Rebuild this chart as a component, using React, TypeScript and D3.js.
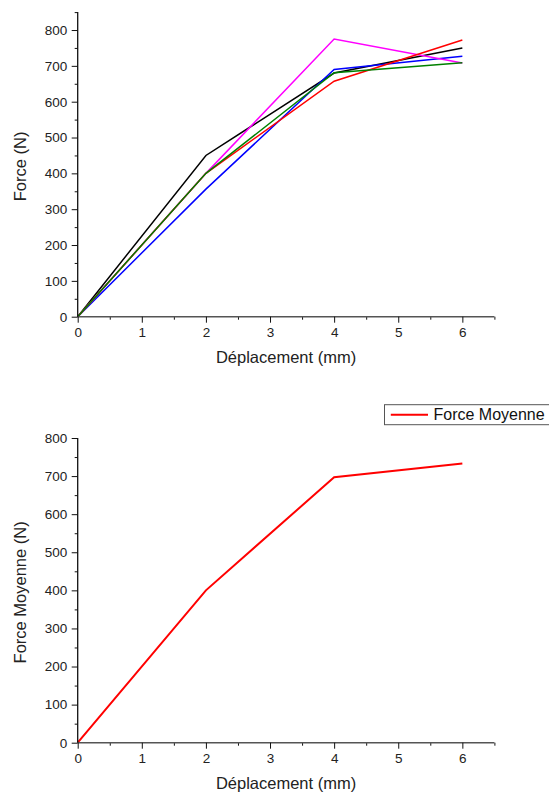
import React, { useEffect, useRef } from "react";
import * as d3 from "d3";

const displacement = [0, 2, 4, 6];
const seriesBlack = [0, 450, 680, 750];
const seriesBlue = [0, 356, 690, 727];
const seriesMagenta = [0, 400, 775, 708];
const seriesRed = [0, 400, 657, 772];
const seriesGreen = [0, 400, 681, 709];
const forceMoyenne = [0, 400, 697, 733];

const xMajorTicks = [0, 1, 2, 3, 4, 5, 6];
const xMinorTicks = [0.5, 1.5, 2.5, 3.5, 4.5, 5.5, 6.5];
const yMajorTicks1 = [0, 100, 200, 300, 400, 500, 600, 700, 800];
const yMinorTicks1 = [50, 150, 250, 350, 450, 550, 650, 750, 850];
const yMajorTicks2 = [0, 100, 200, 300, 400, 500, 600, 700, 800];
const yMinorTicks2 = [50, 150, 250, 350, 450, 550, 650, 750];

const topSeries = [
  { name: "S1", values: seriesBlack, color: "#000000" },
  { name: "S2", values: seriesBlue, color: "#0000ff" },
  { name: "S3", values: seriesMagenta, color: "#ff00ff" },
  { name: "S4", values: seriesRed, color: "#ff0000" },
  { name: "S5", values: seriesGreen, color: "#008000" },
];

const FONT = "'Liberation Sans', Arial, sans-serif";

export default function App() {
  const ref = useRef<SVGSVGElement | null>(null);

  useEffect(() => {
    const svg = d3.select(ref.current);
    svg.selectAll("*").remove();

    const x0 = 77.7;
    const x1 = 494.4;

    function drawPanel(opts: {
      yBottom: number;
      yTop: number;
      yMax: number;
      yMajor: number[];
      yMinor: number[];
      yTitle: string;
      series: { name: string; values: number[]; color: string }[];
      lineWidth: number;
    }) {
      const x = d3.scaleLinear().domain([0, 6.5]).range([x0, x1]);
      const y = d3.scaleLinear().domain([0, opts.yMax]).range([opts.yBottom, opts.yTop]);
      const g = svg.append("g");

      const line = d3
        .line<number>()
        .x((_, i) => x(displacement[i]))
        .y((d) => y(d));

      opts.series.forEach((s) => {
        g.append("path")
          .attr("d", line(s.values))
          .attr("fill", "none")
          .attr("stroke", s.color)
          .attr("stroke-width", opts.lineWidth)
          .attr("stroke-linejoin", "miter");
      });

      // x axis
      const gxMinor = g.append("g").attr("transform", `translate(0,${opts.yBottom})`);
      gxMinor.call(d3.axisBottom(x).tickValues(xMinorTicks).tickSize(3).tickFormat(() => ""));
      const gx = g.append("g").attr("transform", `translate(0,${opts.yBottom})`);
      gx.call(d3.axisBottom(x).tickValues(xMajorTicks).tickSize(6).tickPadding(5).tickFormat(d3.format("d")));

      // y axis
      const gyMinor = g.append("g").attr("transform", `translate(${x0},0)`);
      gyMinor.call(d3.axisLeft(y).tickValues(opts.yMinor).tickSize(3).tickFormat(() => ""));
      const gy = g.append("g").attr("transform", `translate(${x0},0)`);
      gy.call(d3.axisLeft(y).tickValues(opts.yMajor).tickSize(6).tickPadding(4.5).tickFormat(d3.format("d")));

      [gxMinor, gx, gyMinor, gy].forEach((a) => {
        a.selectAll(".tick line").attr("stroke", "#111").attr("stroke-width", 1);
        a.selectAll(".tick text")
          .attr("fill", "#222")
          .style("font-family", FONT)
          .style("font-size", "13.5px");
      });
      gyMinor.select("path.domain").remove();
      gxMinor.select("path.domain").remove();
      gx.select("path.domain")
        .attr("d", `M${x0},0H${x1}`)
        .attr("stroke", "#555")
        .attr("stroke-width", 1.5);
      gy.select("path.domain")
        .attr("d", `M0,${opts.yBottom}V${opts.yTop}`)
        .attr("stroke", "#111")
        .attr("stroke-width", 1.3);

      g.append("text")
        .attr("x", (x0 + x1) / 2)
        .attr("y", opts.yBottom + 41)
        .attr("text-anchor", "middle")
        .attr("dy", "0.35em")
        .attr("fill", "#222")
        .style("font-family", FONT)
        .style("font-size", "16.5px")
        .text("Déplacement (mm)");

      g.append("text")
        .attr("transform", `translate(20,${(opts.yBottom + opts.yTop) / 2 + 2}) rotate(-90)`)
        .attr("text-anchor", "middle")
        .attr("dy", "0.35em")
        .attr("fill", "#222")
        .style("font-family", FONT)
        .style("font-size", "16.5px")
        .text(opts.yTitle);
    }

    drawPanel({
      yBottom: 316.7,
      yTop: 12.1,
      yMax: 850,
      yMajor: yMajorTicks1,
      yMinor: yMinorTicks1,
      yTitle: "Force (N)",
      series: topSeries,
      lineWidth: 1.5,
    });

    drawPanel({
      yBottom: 742.7,
      yTop: 438,
      yMax: 800,
      yMajor: yMajorTicks2,
      yMinor: yMinorTicks2,
      yTitle: "Force Moyenne (N)",
      series: [{ name: "Force Moyenne", values: forceMoyenne, color: "#ff0000" }],
      lineWidth: 2,
    });

    // legend
    const lg = svg.append("g");
    lg.append("rect")
      .attr("x", 384.5)
      .attr("y", 404.7)
      .attr("width", 180)
      .attr("height", 20)
      .attr("fill", "#fff")
      .attr("stroke", "#555")
      .attr("stroke-width", 1);
    lg.append("line")
      .attr("x1", 390.8)
      .attr("x2", 428)
      .attr("y1", 414.7)
      .attr("y2", 414.7)
      .attr("stroke", "#ff0000")
      .attr("stroke-width", 2);
    lg.append("text")
      .attr("x", 433.5)
      .attr("y", 414.7)
      .attr("dy", "0.35em")
      .attr("fill", "#111")
      .style("font-family", FONT)
      .style("font-size", "16px")
      .text("Force Moyenne");
  }, []);

  return (
    <svg
      ref={ref}
      width={549}
      height={797}
      style={{ position: "absolute", left: 0, top: 0, background: "#fff" }}
    />
  );
}
